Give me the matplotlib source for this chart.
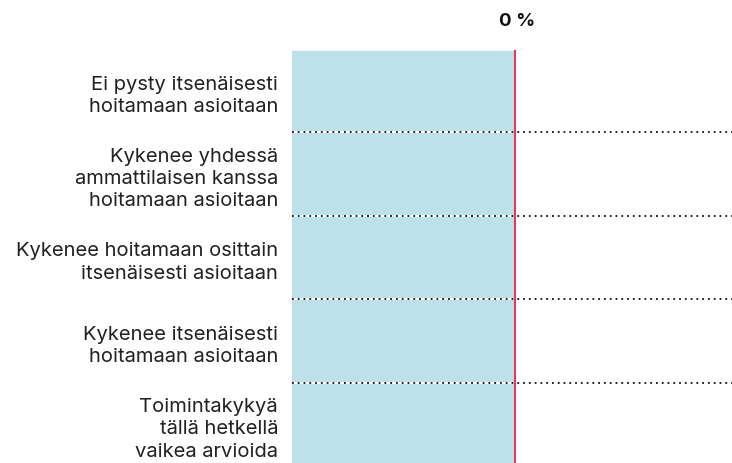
import matplotlib.pyplot as plt
import numpy as np

plt.rcParams['font.family'] = ['Inter', 'DejaVu Sans']

categories = [
    "Ei pysty itsenäisesti\nhoitamaan asioitaan",
    "Kykenee yhdessä\nammattilaisen kanssa\nhoitamaan asioitaan",
    "Kykenee hoitamaan osittain\nitsenäisesti asioitaan",
    "Kykenee itsenäisesti\nhoitamaan asioitaan",
    "Toimintakykyä\ntällä hetkellä\nvaikea arvioida",
]
values = [0, 0, 0, 0, 0]
tick_value = 0
tick_label = "0 %"

BAND = "#bde1e8"
RED = "#e8385a"

fig = plt.figure(figsize=(7.32, 4.64), dpi=100)
# axes runs a little past the bottom edge so the last row is cut off
ax = fig.add_axes([292 / 732, -3 / 464, 440 / 732, 417 / 464])

n = len(categories)
y = np.arange(n)
ax.set_xlim(-1, 0.973)
ax.set_ylim(n - 0.5, -0.5)

ax.axvspan(-1, tick_value, ymax=1 - 2 / 417, color=BAND, zorder=0)
ax.barh(y, values, height=0.6, color=RED, zorder=2)
ax.axvline(tick_value, ymax=1 - 2 / 417, color=RED, lw=1.5, zorder=4)

for i in range(1, n):
    ax.axhline(i - 0.5, color="white", lw=1.4, zorder=1)
    ax.axhline(i - 0.5, color="#111111", lw=1.3, ls=(0, (1, 2.2)), zorder=3)

ax.set_yticks(y)
ax.set_yticklabels(categories, fontsize=14.5, color="#222222",
                   linespacing=1.3, ha="right")
ax.tick_params(axis="y", length=0, pad=10)
ax.set_xticks([])
for s in ax.spines.values():
    s.set_visible(False)

fig.text((515 + 2) / 732, 1 - 22 / 464, tick_label, ha="center", va="center",
         fontsize=13.5, fontweight="bold", color="#111111")

fig.savefig("out.png", dpi=100)
